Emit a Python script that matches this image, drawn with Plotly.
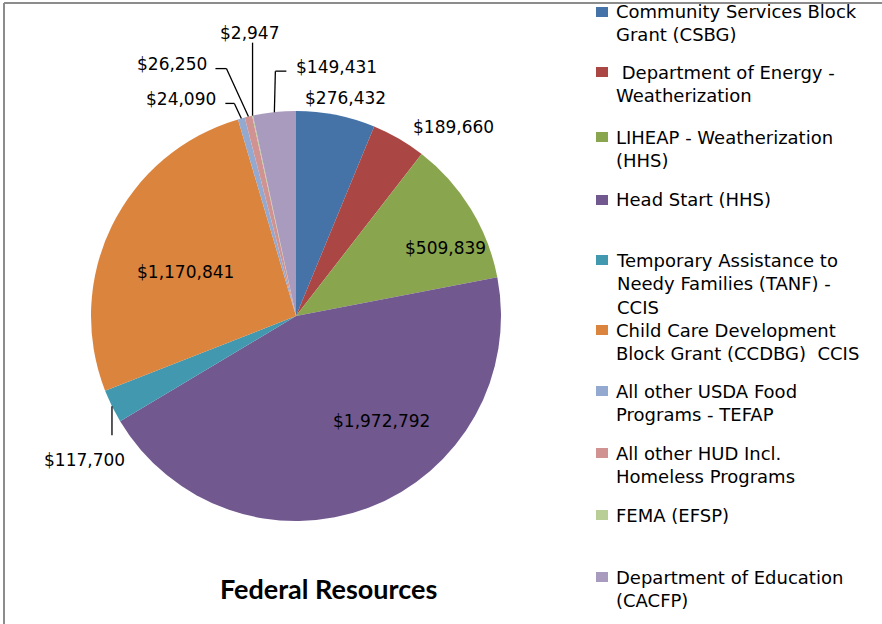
import math
import plotly.graph_objects as go

# ---------------- data ----------------
programs = [
    "Community Services Block Grant (CSBG)",
    "Department of Energy - Weatherization",
    "LIHEAP - Weatherization (HHS)",
    "Head Start (HHS)",
    "Temporary Assistance to Needy Families (TANF) - CCIS",
    "Child Care Development Block Grant (CCDBG) CCIS",
    "All other USDA Food Programs - TEFAP",
    "All other HUD Incl. Homeless Programs",
    "FEMA (EFSP)",
    "Department of Education (CACFP)",
]
legend_text = [
    "Community Services Block<br>Grant (CSBG)",
    "\u00a0Department of Energy -<br>Weatherization",
    "LIHEAP - Weatherization<br>(HHS)",
    "Head Start (HHS)",
    "Temporary Assistance to<br>Needy Families (TANF) -<br>CCIS",
    "Child Care Development<br>Block Grant (CCDBG)\u00a0 CCIS",
    "All other USDA Food<br>Programs - TEFAP",
    "All other HUD Incl.<br>Homeless Programs",
    "FEMA (EFSP)",
    "Department of Education<br>(CACFP)",
]
amounts = [276432, 189660, 509839, 1972792, 117700, 1170841, 24090, 26250, 2947, 149431]
chart_title = "Federal Resources"

# ---------------- style ----------------
colors = ["#4572A7", "#AA4643", "#89A54E", "#71588F", "#4198AF",
          "#DB843D", "#93A9CF", "#D19392", "#B9CD96", "#A99BBD"]
W, H = 882, 624
CX, CY, R = 296, 316, 205          # pie centre / radius in pixels
LABEL_FONT = dict(family="DejaVu Sans", size=17, color="#000000")
LEG_FONT = dict(family="DejaVu Sans", size=18, color="#000000")
LEG_ROWS = [12, 72, 137, 200, 260, 330, 391, 453, 515, 577]   # first-line centres (px)

# label placement styles
inside_place = {2: (0.80, 7.0), 3: (0.66, -18.5), 5: (0.58, -4.6)}
outer_place = {0: (10, -17), 1: (55, -12)}
leaders = {
    4: dict(seg=(0, 29, 0), ldx=-27, ldy=25, xa="center"),
    6: dict(seg=(-7, -15, -9), ldx=-7, ldy=-4, xa="right"),
    7: dict(seg=(-22, -48, -11), ldx=-6, ldy=-5, xa="right"),
    8: dict(seg=(0, -73, 0), ldx=-3, ldy=-10, xa="center"),
    9: dict(seg=(1, -41, 11), ldx=8, ldy=-4, xa="left"),
}


def px(x):
    return x / W


def py(y):
    return 1 - y / H


fig = go.Figure(go.Pie(
    labels=programs,
    values=amounts,
    sort=False,
    direction="clockwise",
    rotation=0,
    marker=dict(colors=colors, line=dict(width=0)),
    textinfo="none",
    hovertemplate="%{label}: $%{value:,}<extra></extra>",
    showlegend=False,
    domain=dict(x=[px(CX - R), px(CX + R)], y=[py(CY + R), py(CY - R)]),
))

annotations = []
shapes = []

total = sum(amounts)
cum = 0
for i, v in enumerate(amounts):
    mid = math.radians(360.0 * (cum + v / 2) / total)
    cum += v
    txt = "${:,}".format(v)
    ex, ey = CX + R * math.sin(mid), CY - R * math.cos(mid)
    if i in inside_place:
        rf, dth = inside_place[i]
        a = mid + math.radians(dth)
        lx, ly = CX + R * rf * math.sin(a), CY - R * rf * math.cos(a)
        annotations.append(dict(x=px(lx), y=py(ly), xref="paper", yref="paper", text=txt,
                                showarrow=False, xanchor="center", yanchor="middle", font=LABEL_FONT))
    elif i in outer_place:
        dx, dy = outer_place[i]
        annotations.append(dict(x=px(ex + dx), y=py(ey + dy), xref="paper", yref="paper", text=txt,
                                showarrow=False, xanchor="center", yanchor="middle", font=LABEL_FONT))
    elif i in leaders:
        L = leaders[i]
        d1x, d1y, d2x = L["seg"]
        x1, y1 = ex + d1x, ey + d1y
        x2, y2 = x1 + d2x, y1
        line = dict(color="#000000", width=1.3)
        shapes.append(dict(type="line", xref="paper", yref="paper",
                           x0=px(ex), y0=py(ey), x1=px(x1), y1=py(y1), line=line))
        if d2x:
            shapes.append(dict(type="line", xref="paper", yref="paper",
                               x0=px(x1), y0=py(y1), x1=px(x2), y1=py(y2), line=line))
        annotations.append(dict(x=px(x2 + L["ldx"]), y=py(y2 + L["ldy"]), xref="paper", yref="paper",
                                text=txt, showarrow=False, xanchor=L["xa"], yanchor="middle",
                                font=LABEL_FONT))

# legend (drawn manually to keep the reference spacing)
for i, name in enumerate(legend_text):
    yc = LEG_ROWS[i]
    shapes.append(dict(type="rect", xref="paper", yref="paper",
                       x0=px(596), x1=px(608), y0=py(yc + 5), y1=py(yc - 5),
                       fillcolor=colors[i], line=dict(width=0)))
    annotations.append(dict(x=px(614), y=py(yc - 12.5), xref="paper", yref="paper", text=name,
                            showarrow=False, xanchor="left", yanchor="top", align="left",
                            font=LEG_FONT))

# chart title
annotations.append(dict(x=px(328), y=py(588), xref="paper", yref="paper", text="<b>%s</b>" % chart_title,
                        showarrow=False, xanchor="center", yanchor="middle",
                        font=dict(family="Lato", size=27, color="#000000")))

# chart-area border (top and left edges visible)
border = dict(color="#8C8C8C", width=2)
shapes.append(dict(type="line", xref="paper", yref="paper", x0=px(4), y0=py(3), x1=1, y1=py(3), line=border))
shapes.append(dict(type="line", xref="paper", yref="paper", x0=px(4), y0=py(3), x1=px(4), y1=0, line=border))

fig.update_layout(
    width=W, height=H,
    margin=dict(l=0, r=0, t=0, b=0),
    paper_bgcolor="white",
    plot_bgcolor="white",
    showlegend=False,
    annotations=annotations,
    shapes=shapes,
)

fig.write_html("out.html", config={"displayModeBar": False},
               post_script="document.body.style.margin='0';")
